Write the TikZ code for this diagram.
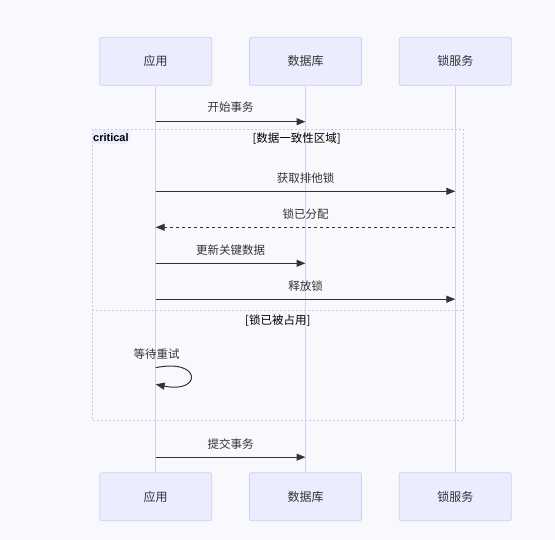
\documentclass[tikz,border=0pt]{standalone}
\usepackage{fontspec}
\setmainfont{Noto Sans CJK SC}
\newfontfamily\latinbold{Liberation Sans}
\usetikzlibrary{arrows.meta}
\definecolor{bgc}{RGB}{248,249,252}
\definecolor{boxfill}{RGB}{236,236,255}
\definecolor{boxline}{RGB}{214,204,242}
\definecolor{lifec}{RGB}{216,204,242}
\definecolor{framec}{RGB}{204,192,238}
\definecolor{txt}{RGB}{51,51,51}
\tikzset{
  actor/.style={draw=boxline, fill=boxfill, line width=0.8pt, rounded corners=2pt, minimum width=112pt, minimum height=48pt, inner sep=0pt, font=\fontsize{12}{14}\selectfont, text=txt},
  lifeline/.style={draw=lifec, line width=1pt},
  msg/.style={draw=txt, line width=1pt, -{Triangle[length=9pt,width=7pt]}},
  reply/.style={msg, dash pattern=on 3pt off 3pt},
  msgtext/.style={font=\fontsize{11.5}{13}\selectfont, text=txt, inner sep=0pt},
  secttext/.style={font=\fontsize{11.5}{13}\selectfont, text=black, inner sep=0pt},
  framebox/.style={draw=framec, line width=1pt, dash pattern=on 2pt off 2pt},
}
\begin{document}
\begin{tikzpicture}[x=1pt,y=-1pt]
\useasboundingbox[fill=bgc] (0,0) rectangle (555,540);
% actors
\node[actor] (appT) at (155.7,61.3) {应用};
\node[actor] (dbT) at (305.5,61.3) {数据库};
\node[actor] (lockT) at (455.3,61.3) {锁服务};
\node[actor] (appB) at (155.7,496.7) {应用};
\node[actor] (dbB) at (305.5,496.7) {数据库};
\node[actor] (lockB) at (455.3,496.7) {锁服务};
% lifelines
\draw[lifeline] (appT.south) -- (appB.north);
\draw[lifeline] (dbT.south) -- (dbB.north);
\draw[lifeline] (lockT.south) -- (lockB.north);
% critical frame
\draw[framebox] (92.3,129.3) rectangle (463.3,420.7);
\draw[framebox] (92.3,310.3) -- (463.3,310.3);
\fill[boxfill] (92.8,129.8) -- (130,129.8) -- (130,140) -- (126,144) -- (92.8,144) -- cycle;
\node[anchor=west, inner sep=0pt, text=black, font=\latinbold\bfseries\fontsize{11}{12}\selectfont] (critlbl) at (93,137.8) {critical};
\node[secttext] (sect1) at (296.7,139) {[数据一致性区域]};
\node[secttext] (sect2) at (277.8,320.3) {[锁已被占用]};
% messages
\coordinate (m1s) at (155.7,121.7); \coordinate (m1e) at (305.5,121.7);
\draw[msg] (m1s) -- (m1e);
\node[msgtext] (t1) at (230.6,107.5) {开始事务};
\coordinate (m2s) at (155.7,191.3); \coordinate (m2e) at (455.3,191.3);
\draw[msg] (m2s) -- (m2e);
\node[msgtext] (t2) at (305.5,177.8) {获取排他锁};
\coordinate (m3s) at (455.3,227.3); \coordinate (m3e) at (155.7,227.3);
\draw[reply] (m3s) -- (m3e);
\node[msgtext] (t3) at (305.5,213.8) {锁已分配};
\coordinate (m4s) at (155.7,263.3); \coordinate (m4e) at (305.5,263.3);
\draw[msg] (m4s) -- (m4e);
\node[msgtext] (t4) at (230.6,249.8) {更新关键数据};
\coordinate (m5s) at (155.7,299.2); \coordinate (m5e) at (455.3,299.2);
\draw[msg] (m5s) -- (m5e);
\node[msgtext] (t5) at (305.5,285.8) {释放锁};
\coordinate (m6s) at (155.7,367.7); \coordinate (m6e) at (155.7,384.3);
\draw[msg] (m6s) .. controls (202,358) and (202,394) .. (m6e);
\node[msgtext] (t6) at (156.5,354.3) {等待重试};
\coordinate (m7s) at (155.7,457.2); \coordinate (m7e) at (305.5,457.2);
\draw[msg] (m7s) -- (m7e);
\node[msgtext] (t7) at (230.6,443.8) {提交事务};
\end{tikzpicture}
\end{document}
